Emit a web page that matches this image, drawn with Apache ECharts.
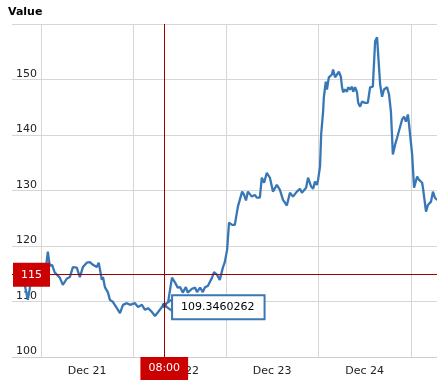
<!DOCTYPE html>
<html><head><meta charset="utf-8">
<script src="https://cdn.jsdelivr.net/npm/echarts@6/dist/echarts.min.js"></script>
<style>html,body{margin:0;padding:0;background:#fff}#c{width:437px;height:392px}</style>
</head><body><div id="c"></div>
<script>
// hours since Dec 21 00:00
const hours = [-6.0,-4.2,-3.4,-2.6,-1.3,0.3,1.3,1.8,2.3,2.9,3.6,4.9,5.7,6.7,7.5,8.3,9.3,10.1,10.9,11.9,12.7,13.5,14.5,15.0,15.8,16.1,16.6,17.4,17.9,18.7,19.7,20.5,21.3,22.3,23.1,24.4,25.2,26.2,27.0,27.8,28.8,29.6,30.4,31.4,32.0,33.0,34.0,34.8,35.5,36.1,36.8,37.6,38.1,39.2,40.0,40.5,41.3,42.0,42.6,43.3,44.4,44.9,45.7,46.4,47.2,47.7,48.3,48.8,49.6,50.3,51.1,52.2,52.7,53.2,53.7,54.7,55.5,56.0,56.3,56.8,57.3,57.9,58.6,58.9,59.4,60.2,61.2,62.0,62.8,63.8,64.6,65.4,66.4,67.2,67.7,68.8,69.3,70.1,70.6,71.1,71.6,71.9,72.4,72.7,73.2,73.4,73.9,74.2,74.7,75.5,75.8,76.3,76.8,77.3,77.8,78.1,78.4,78.9,79.4,79.7,80.2,80.7,81.0,81.5,82.0,82.3,82.8,83.3,84.1,84.8,85.4,86.1,86.7,87.2,87.4,88.0,88.5,89.0,89.8,90.3,90.8,91.3,91.9,92.4,92.9,93.7,94.2,94.7,95.2,95.5,96.3,96.8,97.6,98.1,98.9,99.1,99.9,100.4,101.2,101.7,102.2,102.8];
const values = [115.0,113.0,110.3,113.5,114.6,115.3,116.1,119.0,116.4,116.6,115.2,114.3,113.0,114.1,114.4,116.2,116.1,114.4,116.2,117.0,117.1,116.6,116.2,117.0,113.9,114.4,112.6,111.6,110.3,109.9,108.8,107.9,109.4,109.7,109.4,109.7,109.0,109.4,108.5,108.8,108.1,107.4,108.1,109.0,109.3460262,109.9,114.3,113.4,112.5,112.6,111.6,112.6,111.6,112.3,112.5,111.7,112.5,111.7,112.6,112.8,114.3,115.3,114.8,113.9,116.1,117.1,119.3,124.2,123.8,123.8,127.1,129.8,129.2,128.2,129.8,128.9,129.2,128.7,128.9,128.7,132.3,131.4,133.2,133.4,132.3,129.8,131.0,130.1,128.3,127.3,129.6,128.9,129.8,130.3,129.6,130.5,132.3,130.7,130.3,131.6,131.0,131.9,134.3,140.1,144.2,146.8,149.6,148.2,150.4,150.9,151.8,150.4,150.4,151.4,150.5,148.7,147.7,148.2,147.8,148.6,148.2,148.7,147.8,148.6,147.7,145.8,145.1,146.0,145.8,145.8,148.6,148.7,156.9,157.6,157.6,149.1,146.9,148.2,148.6,147.3,144.2,136.5,138.3,139.5,139.7,142.8,143.3,142.4,143.7,141.9,136.5,130.5,132.5,131.9,131.4,130.5,126.2,127.4,128.0,129.8,128.7,128.3];
const dayLabels = ['Dec 21','Dec 22','Dec 23','Dec 24'];
const yMin = 100, yMax = 160, yStep = 10;
const cursorHour = 32;
const cursorValue = 109.3460262;
const cursorY = 115;

const FONT = 'DejaVu Sans';
const H = 3600000;
const base = new Date(2012, 11, 21, 0, 0, 0).getTime();
const data = hours.map((h, i) => [base + h * H, values[i]]);
const midnights = [0, 1, 2, 3, 4].map(d => base + d * 24 * H);
const noons = dayLabels.map((_, i) => base + (i * 24 + 12) * H);
const cursorTime = base + cursorHour * H;
const pad = n => (n < 10 ? '0' : '') + n;
const BLUE = '#3877b6';
const RED_LINE = '#a00000';
const RED_BOX = '#cc0000';

const chart = echarts.init(document.getElementById('c'), null, {renderer: 'canvas'});
chart.setOption({
  animation: false,
  backgroundColor: '#fff',
  title: {text: 'Value', left: 8, top: 7, padding: 0,
    textStyle: {fontSize: 11, fontWeight: 'bold', color: '#000', fontFamily: FONT}},
  grid: {left: 12, right: 0, top: 24, bottom: 35},
  xAxis: {
    type: 'value', min: base - 7.5 * H, max: base + 102.75 * H, scale: true,
    axisLine: {show: true, lineStyle: {color: '#cfcfcf'}},
    axisTick: {show: false, customValues: midnights},
    splitLine: {show: true, lineStyle: {color: '#d6d6d6'}},
    axisLabel: {customValues: noons, margin: 9, color: '#222', fontSize: 11, fontFamily: FONT,
      hideOverlap: false,
      formatter: v => dayLabels[Math.floor((v - base) / (24 * H))] || ''},
    axisPointer: {show: true, status: 'show', value: cursorTime, type: 'line', snap: false,
      lineStyle: {color: RED_LINE, width: 1, type: 'solid'},
      label: {show: true, backgroundColor: RED_BOX, color: '#fff', padding: [5, 8, 5, 8], margin: 0,
        fontSize: 11, lineHeight: 13, fontFamily: FONT, borderRadius: 0,
        formatter: p => { const d = new Date(p.value); return pad(d.getHours()) + ':' + pad(d.getMinutes()); }}}
  },
  yAxis: {
    type: 'value', min: yMin, max: yMax, interval: yStep,
    axisLine: {show: false}, axisTick: {show: false},
    splitLine: {show: true, lineStyle: {color: '#d6d6d6'}},
    axisLabel: {inside: true, verticalAlign: 'bottom', margin: 4, color: '#222', fontSize: 11, fontFamily: FONT,
      formatter: v => (v === yMax ? '' : String(v))},
    axisPointer: {show: true, status: 'show', value: cursorY, type: 'line', snap: false,
      lineStyle: {color: RED_LINE, width: 1, type: 'solid'},
      label: {show: true, backgroundColor: RED_BOX, color: '#fff', padding: [6, 8, 5, 8], margin: 1,
        fontSize: 11, lineHeight: 13, fontFamily: FONT, borderRadius: 0,
        formatter: p => String(Math.round(p.value))}}
  },
  series: [{
    type: 'line', data: data, showSymbol: false, symbol: 'none',
    lineStyle: {color: BLUE, width: 2.3},
    itemStyle: {color: BLUE},
    markPoint: {
      silent: true, animation: false,
      data: [
        {coord: [cursorTime, cursorValue], symbol: 'path://M0,6L8,0L8,12Z', symbolSize: [8, 12],
          symbolOffset: [4, 0], symbolKeepAspect: false,
          itemStyle: {color: '#fff', borderColor: '#3a78b5', borderWidth: 2},
          label: {show: true, position: 'right', distance: 0, offset: [0, 2], color: '#000', fontSize: 11, lineHeight: 13,
            fontFamily: FONT, backgroundColor: '#fff', borderColor: '#3a78b5', borderWidth: 2,
            padding: [5, 9, 4, 8], borderRadius: 0,
            formatter: () => String(cursorValue)}},
        {coord: [cursorTime, cursorValue], symbol: 'circle', symbolSize: 5,
          itemStyle: {color: '#2c63a0'}, label: {show: false}}
      ]
    }
  }]
});
</script></body></html>
